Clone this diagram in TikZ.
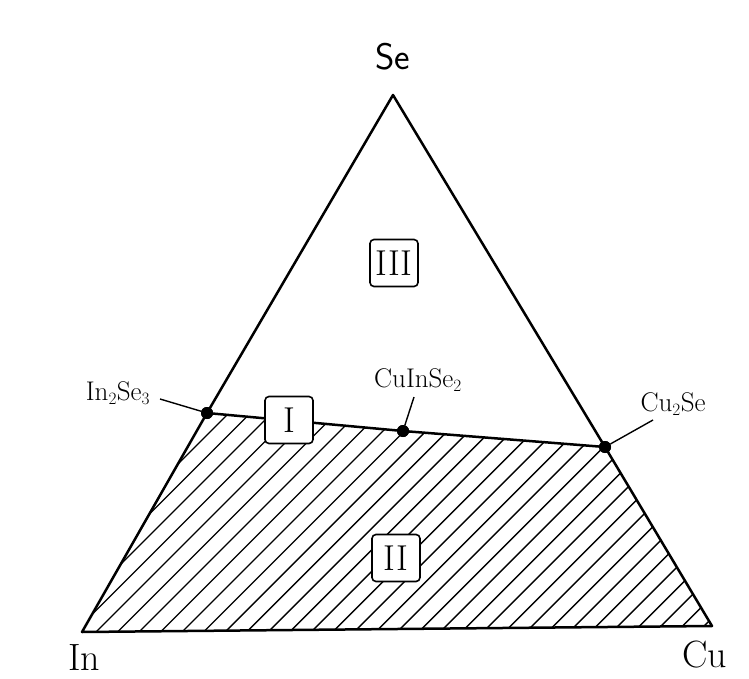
\documentclass[tikz,border=0pt]{standalone}
\usepackage{fontspec}
\begin{document}
\begin{tikzpicture}[x=1pt,y=-1pt,
  edge/.style={line width=2.5pt, line join=round},
  hatch/.style={line width=1.4pt},
  dot/.style={circle, fill=black, inner sep=0pt, minimum size=12pt},
  regionbox/.style={draw, line width=1.6pt, rounded corners=4pt, fill=white, minimum width=48pt, minimum height=47pt, inner sep=0pt, font=\fontsize{36}{36}\selectfont},
  corner/.style={inner sep=0pt, font=\fontsize{38}{38}\selectfont},
  phase/.style={inner sep=0pt, font=\fontsize{27}{27}\selectfont},
  leader/.style={line width=1.4pt}]
\useasboundingbox (0,0) rectangle (749,679);
\coordinate (Se) at (393,95);
\coordinate (In) at (82,632);
\coordinate (Cu) at (712,626);
\node[dot] (A) at (207,413) {};
\node[dot] (B) at (403,431) {};
\node[dot] (C) at (605,447) {};
\begin{scope}
  \clip (A.center) -- (B.center) -- (C.center) -- (Cu) -- (In) -- cycle;
  \foreach \i in {-600,-578.5,...,720} \draw[hatch] (\i,640) -- ++(280,-280);
\end{scope}
\draw[edge] (Se) -- (A.center) -- (In) -- (Cu) -- (C.center) -- cycle;
\draw[edge] (A.center) -- (B.center) -- (C.center);
\node[dot] at (A) {};
\node[dot] at (B) {};
\node[dot] at (C) {};
\node[regionbox] (r3) at (394,263) {III};
\node[regionbox] (r1) at (289,420) {I};
\node[regionbox] (r2) at (396,558) {II};
\node[corner, anchor=base, font=\fontsize{37}{37}\selectfont\sffamily] (tSe) at (393,70) {Se};
\node[corner, anchor=base] (tIn) at (84,670) {In};
\node[corner, anchor=base] (tCu) at (705,667) {Cu};
\node[phase] (lA) at (118,393) {In$_2$Se$_3$};
\node[phase] (lB) at (418,380) {CuInSe$_2$};
\node[phase] (lC) at (673,404) {Cu$_2$Se};
\coordinate (eA) at (160,399);
\coordinate (eB) at (414,397);
\coordinate (eC) at (653,420);
\draw[leader] (eA) -- (A);
\draw[leader] (eB) -- (B);
\draw[leader] (eC) -- (C);
\end{tikzpicture}
\end{document}
